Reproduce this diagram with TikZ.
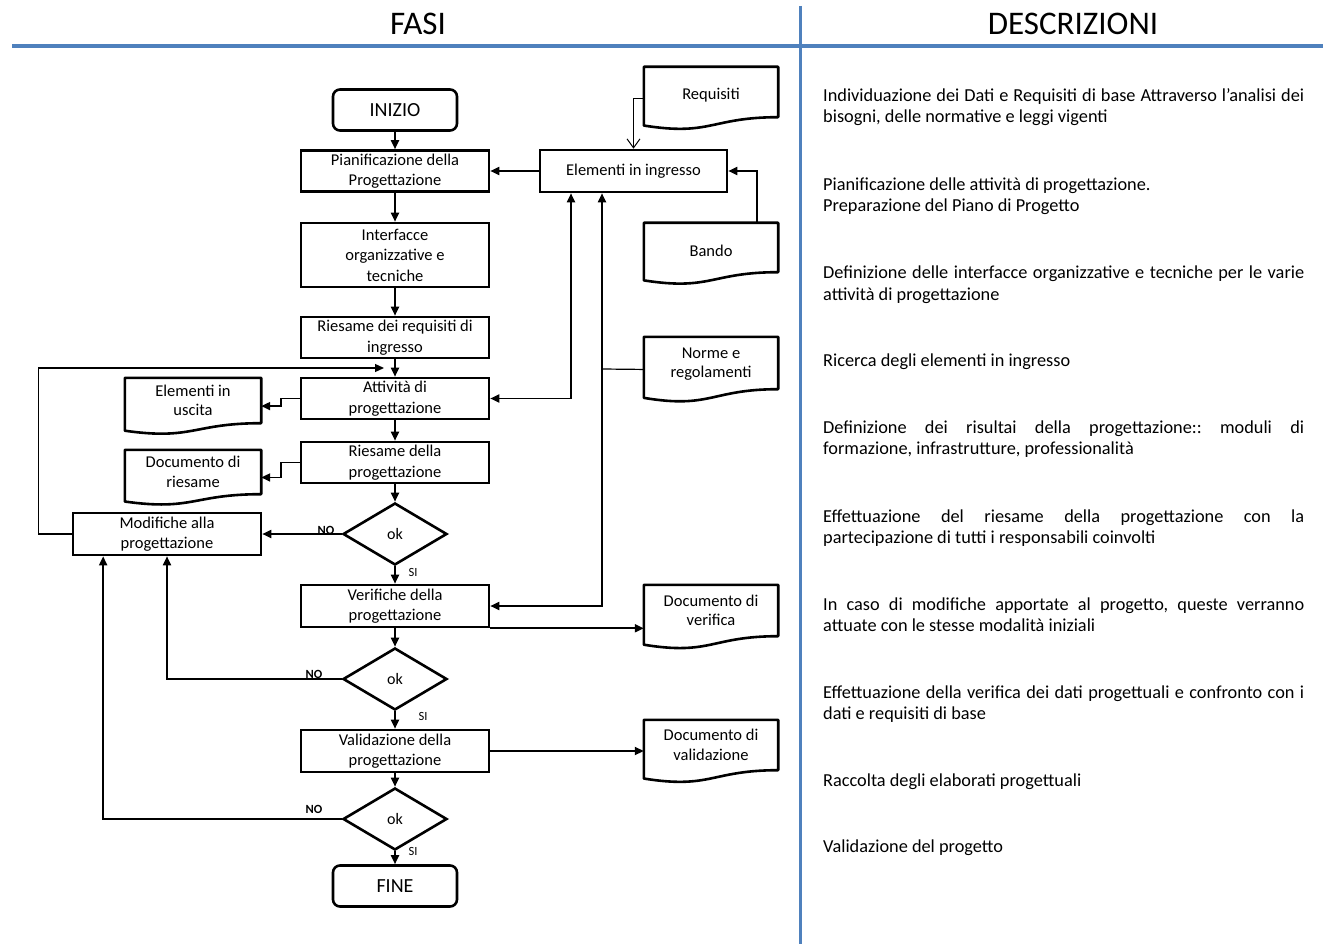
\documentclass[tikz,border=0pt]{standalone}
\usepackage{fontspec}
\setmainfont{Carlito}
\frenchspacing
\usetikzlibrary{arrows.meta,calc,shapes.geometric}
\definecolor{hblue}{RGB}{79,129,189}
\newcommand\docshape[1]{%
  \draw[docline] (#1.north west) -- (#1.north east) -- (#1.south east)
    .. controls (#1.south) and ($(#1.north)!1.38!(#1.south)$) ..
    ($(#1.north west)!1.165!(#1.south west)$) -- cycle;}
\begin{document}
\begin{tikzpicture}[x=1pt,y=-1pt,
  box/.style={draw, line width=2.6pt, minimum width=188pt, minimum height=41pt, align=center,
    font=\fontsize{16.5}{20.5}\selectfont, inner sep=0pt},
  term/.style={box, rounded corners=7pt, minimum width=124pt, minimum height=41pt,
    font=\fontsize{20}{24}\selectfont},
  dec/.style={draw, diamond, line width=2.6pt, minimum width=104pt, minimum height=62pt,
    inner sep=0pt, font=\fontsize{16}{19}\selectfont},
  doc/.style={draw=none, minimum width=134pt, inner sep=0pt, align=center,
    font=\fontsize{16.5}{19.5}\selectfont},
  docline/.style={draw, line width=2.6pt, line join=round},
  tip/.style={-{Triangle[length=9pt,width=8pt]}},
  conn/.style={line width=1.8pt, tip},
  thinconn/.style={line width=1.3pt, tip},
  lbl/.style={font=\fontsize{12.5}{14}\selectfont, inner sep=0pt},
  nolbl/.style={font=\bfseries\fontsize{12.5}{14}\selectfont, inner sep=0pt},
  desc/.style={anchor=base west, align=left, inner sep=0pt, font=\fontsize{18.3}{21}\selectfont},
  head/.style={font=\fontsize{33}{38}\selectfont, inner sep=0pt}
]
\useasboundingbox (0,0) rectangle (1323,944);
\fill[white] (0,0) rectangle (1323,944);

% headers
\node[head] (hf) at (418,24) {FASI};
\node[head] (hd) at (1073,24) {DESCRIZIONI};
\draw[hblue, line width=4pt] (12,46) -- (1323,46);
\draw[hblue, line width=3pt] (800,6) -- (800,944);

% main column
\node[term] (ini) at (395,110) {INIZIO};
\node[box] (pian) at (395,171) {Pianificazione della\\Progettazione};
\node[box, minimum height=64pt] (inter) at (395,255) {Interfacce\\organizzative e\\tecniche};
\node[box] (riesreq) at (395,337.5) {Riesame dei requisiti di\\ingresso};
\node[box] (attiv) at (395,398.5) {Attività di\\progettazione};
\node[box] (riesd) at (395,462.5) {Riesame della\\progettazione};
\node[dec] (d1) at (395,534) {ok};
\node[box, minimum height=42pt] (verif) at (395,606) {Verifiche della\\progettazione};
\node[dec] (d2) at (395,679) {ok};
\node[box, minimum height=42pt] (valid) at (395,751) {Validazione della\\progettazione};
\node[dec] (d3) at (395,819) {ok};
\node[term] (fine) at (395,886) {FINE};
\node[box, minimum height=42pt] (modif) at (167,534) {Modifiche alla\\progettazione};
\node[box, minimum width=187pt, minimum height=42pt] (elem) at (633.5,171) {Elementi in ingresso};

% documents
\node[doc, minimum height=50pt] (req) at (711,92) {};
\node[doc, minimum height=49pt] (bando) at (711,247.5) {};
\node[doc, minimum height=52pt] (norme) at (711,363) {};
\node[doc, minimum width=136pt, minimum height=45pt] (uscita) at (193,400.5) {};
\node[doc, minimum width=136pt, minimum height=44pt] (docries) at (193,472) {};
\node[doc, minimum height=51pt] (dver) at (711,610.5) {};
\node[doc, minimum height=50pt] (dval) at (711,745) {};
\foreach \n in {req,bando,norme,uscita,docries,dver,dval} {\docshape{\n}}
\node[doc] (reqt) at ($(req.center)+(0,3)$) {Requisiti};
\node[doc] (bandot) at ($(bando.center)+(0,3)$) {Bando};
\node[doc] (normet) at ($(norme.center)+(0,1)$) {Norme e\\regolamenti};
\node[doc] (uscitat) at (uscita.center) {Elementi in\\uscita};
\node[doc] (docriest) at (docries.center) {Documento di\\riesame};
\node[doc] (dvert) at (dver.center) {Documento di\\verifica};
\node[doc] (dvalt) at (dval.center) {Documento di\\validazione};

% vertical flow
\draw[conn] (ini) -- (pian);
\draw[conn] (pian) -- (inter);
\draw[conn] (inter) -- (riesreq);
\draw[conn] (riesreq) -- (attiv);
\draw[conn] (attiv) -- (riesd);
\draw[conn] (riesd) -- (d1);
\draw[conn] (d1) -- (verif);
\draw[conn] (verif) -- (d2);
\draw[conn] (d2) -- (valid);
\draw[conn] (valid) -- (d3);
\draw[conn] (d3) -- (fine);

% inputs
\draw[line width=1pt, -{Straight Barb[length=9pt,width=13pt]}]
  ($(req.north west)!0.623!(req.south west)$) -| (elem.north);
\draw[conn] ($(bando.north)!0.68!(bando.north east)$) |- (elem.east);
\draw[conn] (elem.west) -- (pian.east);
\coordinate (c1) at (571,398.5);
\draw[line width=1.8pt, {Triangle[length=9pt,width=8pt]}-{Triangle[length=9pt,width=8pt]}]
  (elem.south -| c1) -- (c1) -- (attiv.east);
\coordinate (c2) at (602,369);
\draw[line width=1.2pt] ($(norme.north west)!0.623!(norme.south west)$) -- (c2);
\draw[conn] (c2) -- (elem.south -| c2);
\draw[conn] (c2) |- (verif.east);

% outputs
\draw[conn] (attiv.west) -- ++(-19,0) |- ($(uscita.north east)!0.623!(uscita.south east)$);
\draw[conn] (riesd.west) -- ++(-19,0) |- ($(docries.north east)!0.623!(docries.south east)$);
\draw[conn] (verif.south east) -- (verif.south east -| dver.west);
\draw[conn] (valid.east) -- (valid.east -| dval.west);

% loops
\coordinate (lp) at (384,368);
\draw[thinconn] (modif.west) -- ++(-33,0) |- (lp);
\draw[conn] (d1.west) -- (modif.east);
\draw[conn] (d2.west) -| (modif.south);
\draw[conn] (d3.west) -| ($(modif.south west)!0.165!(modif.south east)$);

% labels
\node[nolbl] (no1) at (326,530) {NO};
\node[nolbl] (no2) at (314,674) {NO};
\node[nolbl] (no3) at (314,809) {NO};
\node[lbl] (si1) at (413,572) {SI};
\node[lbl] (si2) at (423,716) {SI};
\node[lbl] (si3) at (413,851) {SI};

% descriptions (anchor = baseline of the last line)
\node[desc] (t1) at (823,123) {\makebox[481pt][s]{Individuazione dei Dati e Requisiti di base Attraverso l’analisi dei}\\bisogni, delle normative e leggi vigenti};
\node[desc] (t2) at (823,212) {Pianificazione delle attività di progettazione.\\Preparazione del Piano di Progetto};
\node[desc] (t3) at (823,300) {\makebox[481pt][s]{Definizione delle interfacce organizzative e tecniche per le varie}\\attività di progettazione};
\node[desc] (t4) at (823,366) {Ricerca degli elementi in ingresso};
\node[desc] (t5) at (823,454) {\makebox[481pt][s]{Definizione dei risultai della progettazione:: moduli di}\\formazione, infrastrutture, professionalità};
\node[desc] (t6) at (823,543) {\makebox[481pt][s]{Effettuazione del riesame della progettazione con la}\\partecipazione di tutti i responsabili coinvolti};
\node[desc] (t7) at (823,631) {\makebox[481pt][s]{In caso di modifiche apportate al progetto, queste verranno}\\attuate con le stesse modalità iniziali};
\node[desc] (t8) at (823,719) {\makebox[481pt][s]{Effettuazione della verifica dei dati progettuali e confronto con i}\\dati e requisiti di base};
\node[desc] (t9) at (823,786) {Raccolta degli elaborati progettuali};
\node[desc] (t10) at (823,852) {Validazione del progetto};
\end{tikzpicture}
\end{document}
